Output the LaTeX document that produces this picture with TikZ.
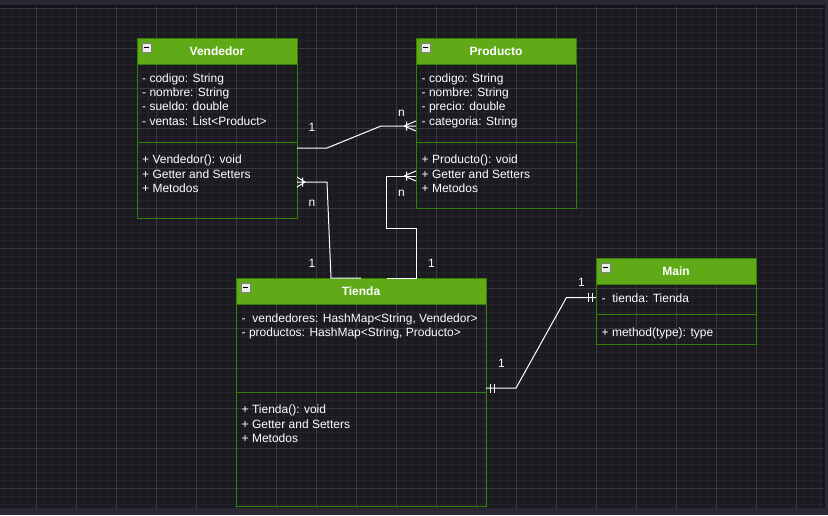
\documentclass[tikz,border=0pt]{standalone}
\usepackage{fontspec}
\setmainfont{Liberation Sans}
\usepackage{tikz}

\definecolor{fondo}{HTML}{1B1A21}
\definecolor{barra}{HTML}{2A2832}
\definecolor{filo}{HTML}{141318}
\definecolor{gridmenor}{HTML}{24232A}
\definecolor{gridmayor}{HTML}{3A3940}
\definecolor{verde}{HTML}{60A917}
\definecolor{borde}{HTML}{348205}

\begin{document}
\begin{tikzpicture}[x=1pt,y=-1pt,
    classbox/.style={draw=borde, line width=1pt, inner sep=0pt, outer sep=0pt, anchor=north west},
    classhead/.style={classbox, fill=verde, text=white, font=\fontsize{12}{14}\selectfont\bfseries, text height=8.6pt, text depth=0pt},
    minusbox/.style={draw=gray, fill=black!8, line width=0.6pt, minimum size=8.5pt, inner sep=0pt, anchor=north west,
        path picture={\draw[black, line width=1pt] ([xshift=1.8pt]path picture bounding box.west) -- ([xshift=-1.8pt]path picture bounding box.east);}},
    attr/.style={text=white, inner sep=0pt, anchor=base west, font=\fontsize{12}{14}\selectfont},
    mult/.style={text=white, inner sep=0pt, font=\fontsize{12}{14}\selectfont},
    conn/.style={draw=white, line width=1pt}]

	% fondo y rejilla
	\fill[barra] (0,0) rectangle (828,515);
	\fill[filo] (0,5) rectangle (825,508);
	\fill[fondo] (0,7.5) rectangle (823,508);
	\begin{scope}
		\clip (0,7.5) rectangle (823,508);
		\begin{scope}[y=1pt, shift={(4,0)}]
			\draw[gridmenor, line width=1pt, step=8] (-8,-512) grid (824,0);
		\end{scope}
		\begin{scope}[y=1pt, shift={(36,32)}]
			\draw[gridmayor, line width=1pt, step=40] (-40,-560) grid (800,0);
		\end{scope}
	\end{scope}

	% clases
	\node[classbox, minimum width=160pt, minimum height=180pt] (vend) at (137,38) {};
	\node[classhead, minimum width=160pt, minimum height=26pt] (vendhead) at (137,38) {Vendedor};
	\node[minusbox] (vendmin) at (142,43) {};
	\draw[borde, line width=1pt] (vend.west |- 0,142) -- (vend.east |- 0,142);

	\node[classbox, minimum width=160pt, minimum height=170pt] (prod) at (416,38) {};
	\node[classhead, minimum width=160pt, minimum height=26pt] (prodhead) at (416,38) {Producto};
	\node[minusbox] (prodmin) at (421,43) {};
	\draw[borde, line width=1pt] (prod.west |- 0,142.5) -- (prod.east |- 0,142.5);

	\node[classbox, minimum width=250pt, minimum height=228pt] (tienda) at (236,278) {};
	\node[classhead, minimum width=250pt, minimum height=26pt] (tiendahead) at (236,278) {Tienda};
	\node[minusbox] (tiendamin) at (241,283) {};
	\draw[borde, line width=1pt] (tienda.west |- 0,392) -- (tienda.east |- 0,392);

	\node[classbox, minimum width=160pt, minimum height=86pt] (main) at (596,258) {};
	\node[classhead, minimum width=160pt, minimum height=26pt] (mainhead) at (596,258) {Main};
	\node[minusbox] (mainmin) at (601,263) {};
	\draw[borde, line width=1pt] (main.west |- 0,314) -- (main.east |- 0,314);

	% atributos y metodos
	\node[attr] (v1) at (142,82) {- codigo: String};
	\node[attr] (v2) at (142,96.3) {- nombre: String};
	\node[attr] (v3) at (142,110.7) {- sueldo: double};
	\node[attr] (v4) at (142,125) {- ventas: List<Product>};
	\node[attr] (v5) at (142,163.7) {+ Vendedor(): void};
	\node[attr] (v6) at (142,178) {+ Getter and Setters};
	\node[attr] (v7) at (142,192.5) {+ Metodos};

	\node[attr] (p1) at (421.5,82) {- codigo: String};
	\node[attr] (p2) at (421.5,96.3) {- nombre: String};
	\node[attr] (p3) at (421.5,110.7) {- precio: double};
	\node[attr] (p4) at (421.5,125) {- categoria: String};
	\node[attr] (p5) at (421.5,163.7) {+ Producto(): void};
	\node[attr] (p6) at (421.5,178) {+ Getter and Setters};
	\node[attr] (p7) at (421.5,192.5) {+ Metodos};

	\node[attr] (t1) at (241.5,322) {-~ vendedores: HashMap<String, Vendedor>};
	\node[attr] (t2) at (241.5,336.3) {- productos: HashMap<String, Producto>};
	\node[attr] (t3) at (241.5,413.7) {+ Tienda(): void};
	\node[attr] (t4) at (241.5,428) {+ Getter and Setters};
	\node[attr] (t5) at (241.5,442.6) {+ Metodos};

	\node[attr] (m1) at (601.5,302) {-~ tienda: Tienda};
	\node[attr] (m2) at (601.5,336) {+ method(type): type};

	% relaciones
	\coordinate (vp1) at (327,148);
	\coordinate (vp2) at (381,126);
	\draw[conn] (vend.east |- vp1) -- (vp1) -- (vp2) -- (prod.west |- vp2);
	\draw[conn] (404,126) -- (prod.west |- 0,121) (404,126) -- (prod.west |- 0,131) (406.5,121.5) -- (406.5,130.5);

	\coordinate (vt1) at (327,182);
	\draw[conn] (vend.east |- vt1) -- (vt1) -- (tienda.north -| 331,0) -- (tienda.north -| 361,0);
	\draw[conn] (vend.east |- 0,177) -- (305,182) -- (vend.east |- 0,187) (302.5,177.5) -- (302.5,186.5);

	\coordinate (pt1) at (386.5,176);
	\coordinate (pt2) at (386.5,228);
	\coordinate (pt3) at (416,228);
	\draw[conn] (prod.west |- pt1) -- (pt1) -- (pt2) -- (pt3) -- (tienda.north -| pt3) -- (tienda.north -| pt1);
	\draw[conn] (404,176) -- (prod.west |- 0,171) (404,176) -- (prod.west |- 0,181) (406.5,171.5) -- (406.5,180.5);

	\coordinate (tm1) at (516,388);
	\coordinate (tm2) at (566.5,297.5);
	\draw[conn] (tienda.east |- tm1) -- (tm1) -- (tm2) -- (main.west |- tm2);
	\draw[conn] (490,383.5) -- (490,392.5) (494,383.5) -- (494,392.5);
	\draw[conn] (588,293) -- (588,302) (592.5,293) -- (592.5,302);

	% multiplicidades
	\node[mult] (l1) at (312,127.5) {1};
	\node[mult] (l2) at (401.5,113.5) {n};
	\node[mult] (l3) at (312,203.5) {n};
	\node[mult] (l4) at (401.5,193.5) {n};
	\node[mult] (l5) at (312,263) {1};
	\node[mult] (l6) at (431.5,263) {1};
	\node[mult] (l7) at (581.5,282.5) {1};
	\node[mult] (l8) at (501.5,363) {1};
\end{tikzpicture}
\end{document}
